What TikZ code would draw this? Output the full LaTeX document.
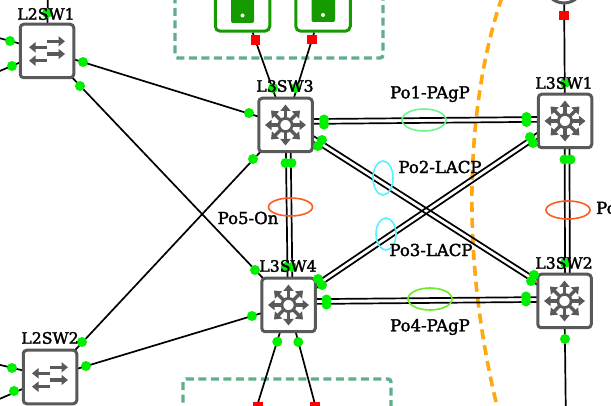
\documentclass[tikz,border=0pt]{standalone}
\usepackage{fontspec}
\setmainfont[FakeBold=2]{DejaVu Serif}
\usetikzlibrary{arrows.meta,calc}
\definecolor{gicon}{HTML}{595959}
\definecolor{gdot}{HTML}{00EE00}
\definecolor{srv}{HTML}{159A00}
\definecolor{zone}{HTML}{5FB08A}
\definecolor{orng}{HTML}{FFA812}
\definecolor{ored}{HTML}{FF5A1E}
\definecolor{cyn}{HTML}{55F5FF}
\definecolor{lim}{HTML}{66EE22}
\definecolor{mnt}{HTML}{70F590}
\tikzset{
  swbox/.style={draw=gicon,fill=white,line width=3pt,rounded corners=3.5pt,minimum size=53.5pt,inner sep=0pt},
  srvbox/.style={draw=srv,fill=white,line width=3pt,rounded corners=5pt,minimum size=54.5pt,inner sep=0pt},
  lk/.style={draw=black,line width=1.7pt},
  ring/.style={line width=1.6pt},
  txt/.style={font=\fontsize{15.7}{16}\selectfont,text=black,inner sep=0pt},
  ptxt/.style={font=\fontsize{16.5}{17}\selectfont,text=black,inner sep=0pt},
  redsq/.style={fill=red,draw=none,minimum size=9.5pt,inner sep=0pt},
  zonebox/.style={draw=zone,line width=3.4pt,rounded corners=3pt,dash pattern=on 8pt off 4.5pt},
  arr/.style={draw=gicon,line width=3.2pt,-{Triangle[length=6.5pt,width=10pt]}},
  l2icon/.pic={
    \draw[arr] (-0.3,-9.7) -- (18,-9.7);
    \draw[arr] (-0.3,3) -- (18,3);
    \draw[arr] (-0.3,-3.7) -- (-18,-3.7);
    \draw[arr] (-0.3,9.7) -- (-18,9.7);
  },
  l3icon/.pic={
    \foreach \a in {0,90,180,270} \draw[arr] (\a:6) -- (\a:20.5);
    \foreach \a in {45,135,225,315} \draw[arr] (\a:6) -- (\a:20.5);
    \draw[gicon,line width=2.8pt,fill=white] (0,0) circle (6.6pt);
  }
}
\newcommand{\twin}[2]{%
  \draw[lk] ($#1!2.4pt!90:#2$) -- ($#2!2.4pt!-90:#1$);
  \draw[lk] ($#1!2.4pt!-90:#2$) -- ($#2!2.4pt!90:#1$);
}
\begin{document}
\begin{tikzpicture}[x=1pt,y=-1pt]
\useasboundingbox (0,0) rectangle (611,406);
\clip (0,0) rectangle (611,406);
\fill[white] (0,0) rectangle (611,406);

% zones
\draw[zonebox] (175,-20) rectangle (383,58);
\draw[zonebox] (183,379) rectangle (391,430);
\draw[draw=orng,line width=3.6pt,dash pattern=on 10pt off 6pt] (502,-3) .. controls (467,100) and (459,250) .. (497,406);

% switches
\coordinate (s1c) at (565,121);
\coordinate (s2c) at (564.5,301);
\coordinate (s3c) at (285.5,125);
\coordinate (s4c) at (288.5,305);
\coordinate (w1c) at (47,51);
\coordinate (w2c) at (50,377);

% far ends off the page
\coordinate (wa) at (48,-10);
\coordinate (wb) at (-12,35);
\coordinate (wc) at (-12,76);
\coordinate (wd) at (-12,362);
\coordinate (we) at (-12,404);
\coordinate (lo1) at (247,438);
\coordinate (lo2) at (324,438);
\coordinate (lo3) at (566,430);

% servers
\node[srvbox] (srv1) at (242.5,4) {};
\node[srvbox] (srv2) at (323,4) {};
\node[circle,draw=gicon,fill=white,line width=3pt,minimum size=38pt,inner sep=0pt] (top) at (564,-16) {};
\fill[srv,rounded corners=2pt] (231,-20) rectangle (254,23);
\fill[srv,rounded corners=2pt] (311.5,-20) rectangle (335,22);
\fill[white] (242.5,15.5) circle (2pt);
\fill[white] (323,15) circle (2pt);

% single links
\draw[lk] (w1c) -- (s3c);
\draw[lk] (w1c) -- (s4c);
\draw[lk] (w2c) -- (s3c);
\draw[lk] (w2c) -- (s4c);
\draw[lk] (w1c) -- (wa);
\draw[lk] (w1c) -- (wb);
\draw[lk] (w1c) -- (wc);
\draw[lk] (w2c) -- (wd);
\draw[lk] (w2c) -- (we);
\draw[lk] (srv1) -- (s3c);
\draw[lk] (srv2) -- (s3c);
\draw[lk] (top) -- (s1c);
\draw[lk] (s4c) -- (lo1);
\draw[lk] (s4c) -- (lo2);
\draw[lk] (s2c) -- (lo3);

% port channels
\twin{([yshift=3.3pt]s3c)}{([yshift=1.8pt]s1c)}
\twin{([yshift=3.25pt]s4c)}{([yshift=1.7pt]s2c)}
\twin{([xshift=2.5pt]s3c)}{([xshift=1.8pt]s4c)}
\twin{([xshift=2pt]s1c)}{([xshift=3pt]s2c)}
\twin{([yshift=4pt]s3c)}{([yshift=1.8pt]s2c)}
\twin{([yshift=1pt]s4c)}{([yshift=4pt]s1c)}

% port-channel rings
\draw[mnt,ring] (424,120) ellipse (22pt and 11pt);
\draw[cyn,ring] (383,178) ellipse (10pt and 17pt);
\draw[cyn,ring] (386,234) ellipse (10pt and 16pt);
\draw[lim,ring] (430,299) ellipse (22pt and 11pt);
\draw[ored,ring] (290.5,207) ellipse (22pt and 9pt);
\draw[ored,ring] (568,210) ellipse (22pt and 9pt);

% red markers
\node[redsq] (r1) at (255.5,40) {};
\node[redsq] (r2) at (312,39.5) {};
\node[redsq] (r3) at (564,15.5) {};
\node[redsq] (r4) at (258,407) {};
\node[redsq] (r5) at (315,406.5) {};

% nodes
\node[swbox] (w1) at (w1c) {};
\node[swbox] (w2) at (w2c) {};
\node[swbox] (s3) at (s3c) {};
\node[swbox] (s4) at (s4c) {};
\node[swbox] (s1) at (s1c) {};
\node[swbox] (s2) at (s2c) {};
\pic at (w1c) {l2icon};
\pic at (w2c) {l2icon};
\pic at (s1c) {l3icon};
\pic at (s2c) {l3icon};
\pic at (s3c) {l3icon};
\pic at (s4c) {l3icon};

% port dots
\foreach \p in {(10,41),(12,66),(83,62),(80,86),(47,13),
  (12,368),(14,391),(82,342),(86,366),
  (249,113),(253,159),(273,88),(296,88),
  (255,270),(252,316),(277.3,341.7),(298.3,342),
  (565,83),(565,263),(565,339),
  (285.5,163),(291.5,163),(286,267),(292,267),
  (564.5,159.5),(570.5,159.5),
  (324,119.5),(324,124.5),(526.5,117),(526.5,122),
  (322,140),(318,146),(534,275),(531,281),
  (318,279),(322,285),(530,137),(533,143),
  (326.5,299.5),(326.5,304.5),(526,296.5),(526,301.5)}
  \fill[gdot] \p circle (5pt);

% texts
\node[txt] (l1) at (46,14) {L2SW1};
\node[txt] (l2) at (50,338) {L2SW2};
\node[txt] (l3) at (285,86) {L3SW3};
\node[txt] (l4) at (288,266) {L3SW4};
\node[txt] (l5) at (564,83) {L3SW1};
\node[txt] (l6) at (564,263) {L3SW2};
\node[ptxt] (p1) at (430,94) {Po1-PAgP};
\node[ptxt] (p2) at (440,167) {Po2-LACP};
\node[ptxt] (p3) at (431,250) {Po3-LACP};
\node[ptxt] (p4) at (430,327) {Po4-PAgP};
\node[ptxt] (p5) at (248,218) {Po5-On};
\node[ptxt,anchor=west] (p6) at (596,208) {Po};
\end{tikzpicture}
\end{document}
